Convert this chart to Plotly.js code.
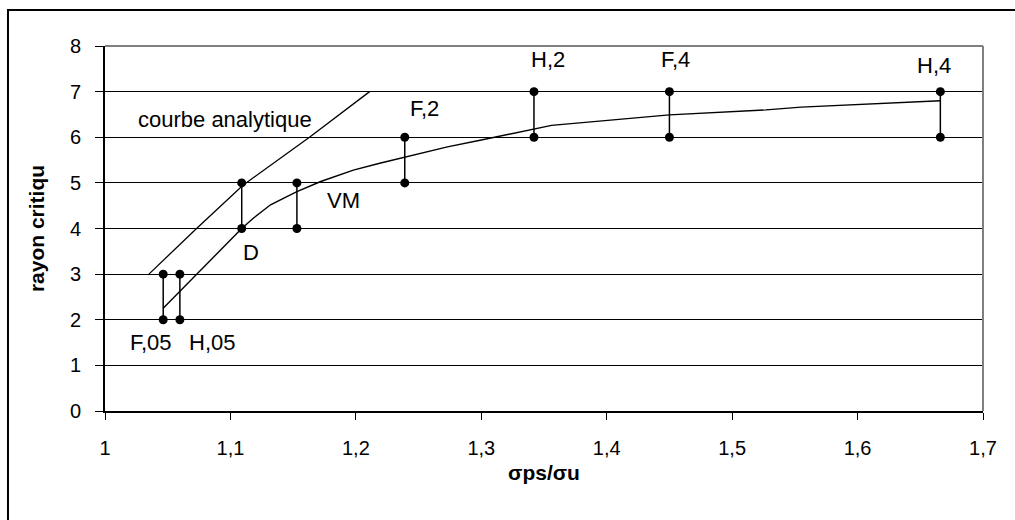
<!DOCTYPE html>
<html>
<head>
<meta charset="utf-8">
<script src="https://cdn.plot.ly/plotly-3.0.1.min.js"></script>
<style>
  html, body { margin: 0; padding: 0; background: #ffffff; }
  #chart { width: 1015px; height: 520px; }
</style>
</head>
<body>
<div id="chart"></div>
<script>
// ---- data ----
const pairLabels = ['F,05', 'H,05', 'D', 'VM', 'F,2', 'H,2', 'F,4', 'H,4'];
const pairX      = [1.0464, 1.0597, 1.109, 1.153, 1.239, 1.342, 1.45, 1.666];
const pairLow    = [2, 2, 4, 4, 5, 6, 6, 6];
const pairHigh   = [3, 3, 5, 5, 6, 7, 7, 7];

const analyticX = [1.035, 1.073, 1.110, 1.163, 1.211];
const analyticY = [3.0, 4.0, 4.95, 6.0, 7.0];

const vmX = [1.0464, 1.109, 1.118, 1.132, 1.145, 1.153, 1.172, 1.198, 1.219, 1.24, 1.273, 1.30, 1.342, 1.356, 1.45, 1.527, 1.555, 1.666];
const vmY = [2.25, 4.0, 4.22, 4.52, 4.70, 4.81, 5.03, 5.28, 5.43, 5.57, 5.79, 5.94, 6.19, 6.26, 6.49, 6.60, 6.66, 6.80];

const analyticLabel = 'courbe analytique';
const xTitle = 'σps/σu';
const yTitle = 'rayon critiqu';

// ---- label styling (anchor end and pixel offsets) ----
const labelAnchor = ['low', 'low', 'low', 'high', 'high', 'high', 'high', 'high'];
const labelDx = [-12.7, 32.6, 9, 47, 20, 14, 6, -6];
const labelDy = [-22.8, -22.8, -24, -17.7, 28.7, 32.6, 32.6, 26.6];

const FONT = 'Liberation Sans, Arial, sans-serif';

// build vertical segments
const segX = [], segY = [];
for (let i = 0; i < pairX.length; i++) {
  segX.push(pairX[i], pairX[i], null);
  segY.push(pairLow[i], pairHigh[i], null);
}

const traces = [
  { x: analyticX, y: analyticY, mode: 'lines', line: { color: '#000', width: 1.3 }, hoverinfo: 'skip' },
  { x: vmX, y: vmY, mode: 'lines', line: { color: '#000', width: 1.4 }, hoverinfo: 'skip' },
  { x: segX, y: segY, mode: 'lines+markers', connectgaps: false,
    line: { color: '#000', width: 1.5 }, marker: { color: '#000', size: 9 }, hoverinfo: 'skip' }
];

const annotations = pairLabels.map((t, i) => ({
  x: pairX[i], y: labelAnchor[i] === 'low' ? pairLow[i] : pairHigh[i],
  xref: 'x', yref: 'y', text: t, showarrow: false,
  xanchor: 'center', yanchor: 'middle',
  xshift: labelDx[i], yshift: labelDy[i],
  font: { family: FONT, size: 22, color: '#000' }
}));
annotations.push({
  x: analyticX[analyticX.length - 1], y: analyticY[analyticY.length - 1],
  xref: 'x', yref: 'y', text: analyticLabel, showarrow: false,
  xanchor: 'center', yanchor: 'middle', xshift: -144.7, yshift: -27.4,
  font: { family: FONT, size: 22, color: '#000' }
});

const layout = {
  width: 1015, height: 520,
  margin: { l: 105, r: 32, t: 46, b: 109 },
  paper_bgcolor: '#fff', plot_bgcolor: '#fff',
  showlegend: false,
  separators: ', ',
  font: { family: FONT, color: '#000' },
  xaxis: {
    range: [1, 1.7], tick0: 1, dtick: 0.1,
    ticks: 'outside', ticklen: 7, tickwidth: 1, tickcolor: '#000',
    showline: true, linecolor: '#000', linewidth: 2,
    showgrid: false, zeroline: false,
    tickfont: { family: FONT, size: 20, color: '#000' },
    ticklabelstandoff: 11,
    title: { text: xTitle, font: { family: FONT, size: 21, color: '#000', weight: 'bold' }, standoff: 7 }
  },
  yaxis: {
    range: [0, 8], tick0: 0, dtick: 1,
    ticks: 'outside', ticklen: 8, tickwidth: 1, tickcolor: '#000',
    showline: true, linecolor: '#000', linewidth: 2,
    showgrid: true, gridcolor: '#000', gridwidth: 1, zeroline: false,
    tickfont: { family: FONT, size: 20, color: '#000' },
    ticklabelstandoff: 10,
    title: { text: yTitle, font: { family: FONT, size: 21, color: '#000', weight: 'bold' }, standoff: 20 }
  },
  shapes: [
    { type: 'rect', xref: 'paper', yref: 'paper', x0: -0.1105, x1: 1.06, y0: -0.34, y1: 1.0986,
      line: { color: '#000', width: 2 }, layer: 'below' },
    { type: 'line', xref: 'paper', yref: 'paper', x0: 0, x1: 1, y0: 1, y1: 1,
      line: { color: '#808080', width: 2 }, layer: 'above' },
    { type: 'line', xref: 'paper', yref: 'paper', x0: 1, x1: 1, y0: 0, y1: 1,
      line: { color: '#808080', width: 2 }, layer: 'above' }
  ],
  annotations: annotations
};

Plotly.newPlot('chart', traces, layout, { staticPlot: true, displayModeBar: false });
</script>
</body>
</html>
